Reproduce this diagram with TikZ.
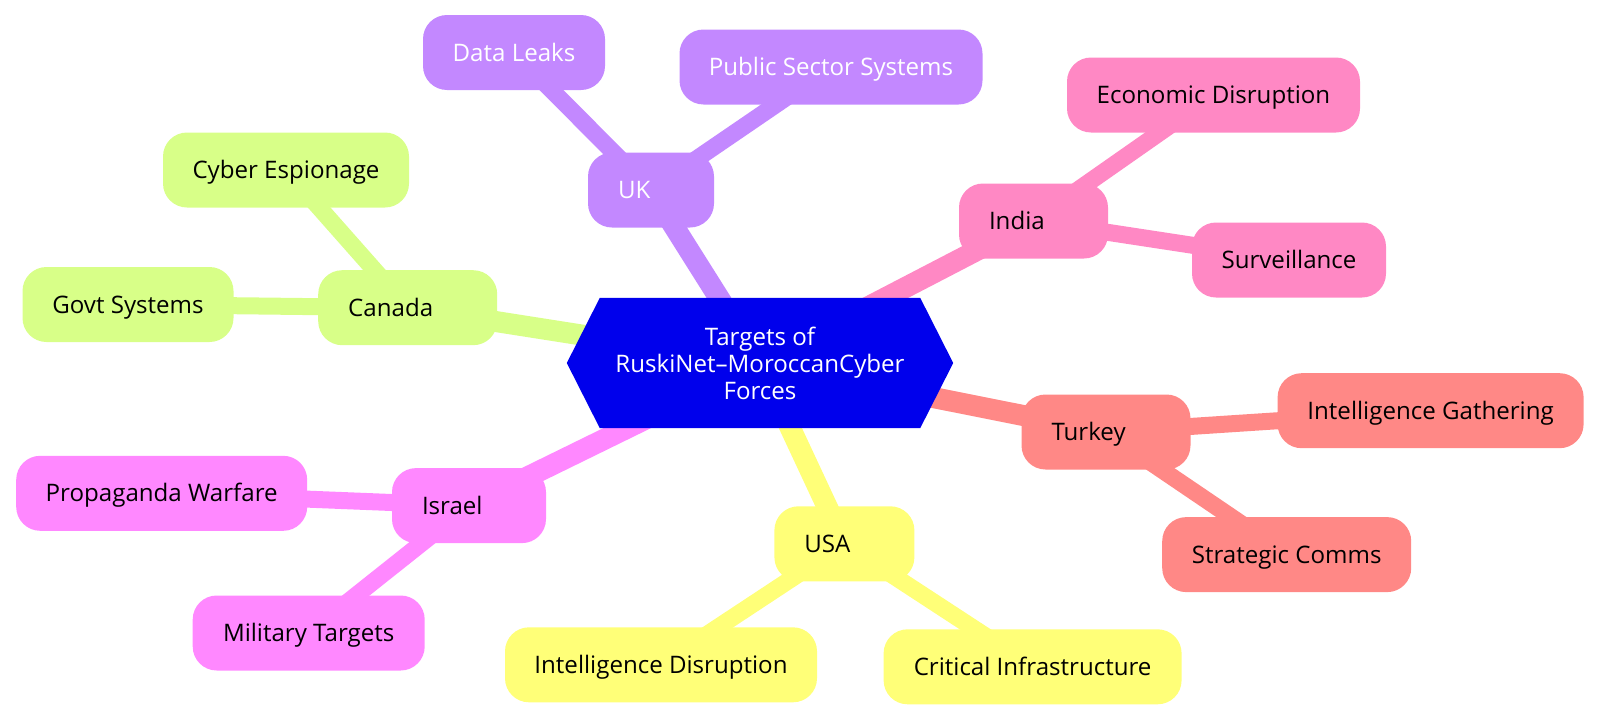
\documentclass[tikz,border=0pt]{standalone}
\usepackage{fontspec}
\setmainfont{Open Sans}
\pgfdeclarelayer{edgelayer}
\pgfsetlayers{edgelayer,main}
\definecolor{croot}{HTML}{0000EC}
\definecolor{cuk}{HTML}{C388FF}
\definecolor{cindia}{HTML}{FF88C4}
\definecolor{ccanada}{HTML}{D8FF88}
\definecolor{cturkey}{HTML}{FF8886}
\definecolor{cisrael}{HTML}{FF88FF}
\definecolor{cusa}{HTML}{FFFF78}
\newcommand{\mmfont}{\fontsize{24.1}{27}\selectfont}
\begin{document}
\begin{tikzpicture}[x=1pt,y=-1pt,
  mm/.style={rounded corners=24pt, minimum height=75pt, inner ysep=0pt, inner xsep=0pt,
    text height=17.2pt, text depth=0pt, font=\mmfont, align=center},
  country/.style={mm, inner xsep=30pt, align=left},
  edgeroot/.style={line width=21pt},
  edgeleaf/.style={line width=17pt}]
\useasboundingbox (0,0) rectangle (1600,720);
% root
\node[font=\mmfont, text=white, align=center, minimum width=320pt, minimum height=130pt, inner sep=0pt] (root) at (760,363) {Targets of\\RuskiNet–MoroccanCyber\\Forces};
% UK
\node[country, fill=cuk, text=white, text width=66pt] (uk) at (651,190) {UK};
\node[mm, fill=cuk, text=white, minimum width=182pt] (dataleaks) at (514,52.5) {Data Leaks};
\node[mm, fill=cuk, text=white, minimum width=303pt] (public) at (831,67) {Public Sector Systems};
% India
\node[country, fill=cindia, text width=89pt] (india) at (1033.5,221) {India};
\node[mm, fill=cindia, minimum width=293pt] (econ) at (1213.5,95) {Economic Disruption};
\node[mm, fill=cindia, minimum width=194pt] (surv) at (1289,260) {Surveillance};
% Canada
\node[country, fill=ccanada, text width=119pt] (canada) at (407.7,307.7) {Canada};
\node[mm, fill=ccanada, minimum width=246pt] (espionage) at (286,170) {Cyber Espionage};
\node[mm, fill=ccanada, minimum width=211pt] (govt) at (128,304.5) {Govt Systems};
% Turkey
\node[country, fill=cturkey, text width=109pt] (turkey) at (1106,432) {Turkey};
\node[mm, fill=cturkey, minimum width=306pt] (intgath) at (1430.6,410.7) {Intelligence Gathering};
\node[mm, fill=cturkey, minimum width=249pt] (strat) at (1286.7,554.6) {Strategic Comms};
% Israel
\node[country, fill=cisrael, text width=94pt] (israel) at (469,505.6) {Israel};
\node[mm, fill=cisrael, minimum width=291pt] (propaganda) at (161.7,493.3) {Propaganda Warfare};
\node[mm, fill=cisrael, minimum width=232pt] (military) at (308.7,633) {Military Targets};
% USA
\node[country, fill=cusa, text width=80pt] (usa) at (844.4,543.8) {USA};
\node[mm, fill=cusa, minimum width=312pt] (intdis) at (661,664.8) {Intelligence Disruption};
\node[mm, fill=cusa, minimum width=298pt] (critical) at (1032.6,666.8) {Critical Infrastructure};
\begin{pgfonlayer}{edgelayer}
  \draw[edgeroot, cuk] (root.center) -- (uk.center);
  \draw[edgeroot, cindia] (root.center) -- (india.center);
  \draw[edgeroot, ccanada] (root.center) -- (canada.center);
  \draw[edgeroot, cturkey] (root.center) -- (turkey.center);
  \draw[edgeroot, cisrael] (root.center) -- (israel.center);
  \draw[edgeroot, cusa] (root.center) -- (usa.center);
  \draw[edgeleaf, cuk] (uk.center) -- (dataleaks.center);
  \draw[edgeleaf, cuk] (uk.center) -- (public.center);
  \draw[edgeleaf, cindia] (india.center) -- (econ.center);
  \draw[edgeleaf, cindia] (india.center) -- (surv.center);
  \draw[edgeleaf, ccanada] (canada.center) -- (espionage.center);
  \draw[edgeleaf, ccanada] (canada.center) -- (govt.center);
  \draw[edgeleaf, cturkey] (turkey.center) -- (intgath.center);
  \draw[edgeleaf, cturkey] (turkey.center) -- (strat.center);
  \draw[edgeleaf, cisrael] (israel.center) -- (propaganda.center);
  \draw[edgeleaf, cisrael] (israel.center) -- (military.center);
  \draw[edgeleaf, cusa] (usa.center) -- (intdis.center);
  \draw[edgeleaf, cusa] (usa.center) -- (critical.center);
  \fill[croot] (root.north west) -- (root.north east) -- ([xshift=33pt]root.east)
    -- (root.south east) -- (root.south west) -- ([xshift=-33pt]root.west) -- cycle;
\end{pgfonlayer}
\end{tikzpicture}
\end{document}
